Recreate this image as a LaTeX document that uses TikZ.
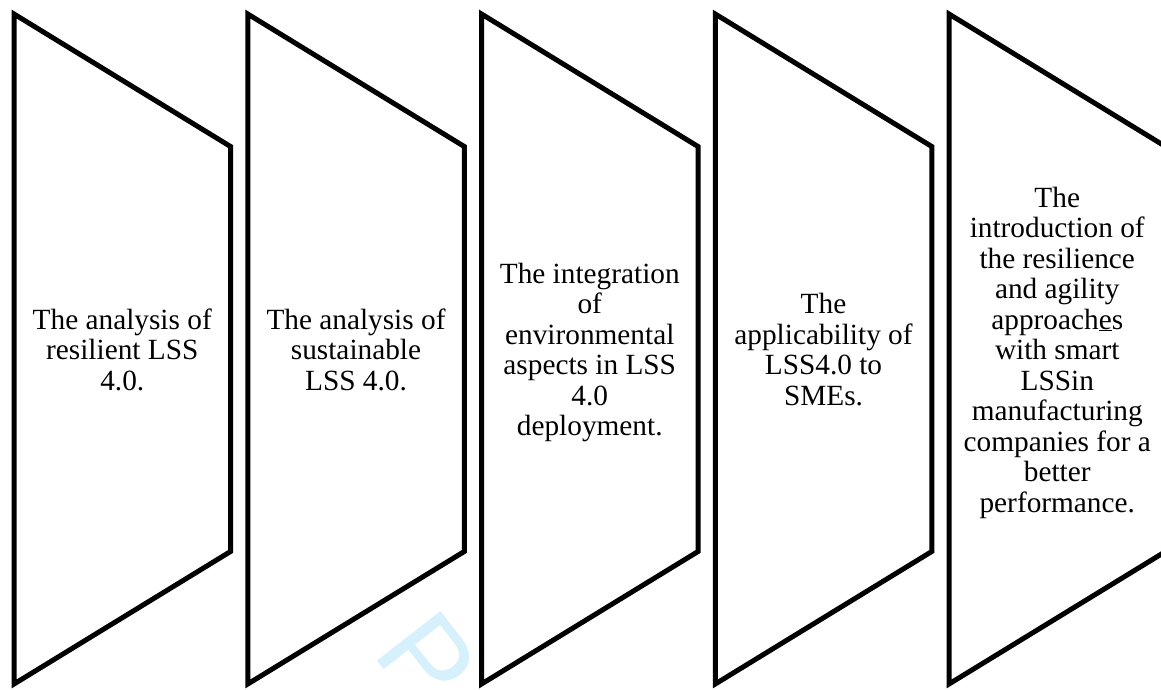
\documentclass[tikz,border=0pt]{standalone}
\usepackage{fontspec}
\setmainfont{Liberation Serif}
\newfontfamily\wmfont{Liberation Sans}
\definecolor{wmcyan}{RGB}{214,240,252}
\begin{document}
\begin{tikzpicture}[x=1pt,y=1pt,
  panel/.style={draw=black, fill=white, line width=5pt, line join=miter},
  label/.style={align=center, inner sep=0pt, font=\fontsize{29.3}{30.5}\selectfont},
  watermark/.style={anchor=base west, inner sep=0pt, rotate=-52, text=wmcyan,
    font=\wmfont\fontsize{117}{117}\selectfont}
]
\useasboundingbox (0,0) rectangle (1161,-689);
\clip (0,0) rectangle (1161,-689);
\fill[white] (0,0) rectangle (1161,-689);
% faint watermark behind the panels
\node[watermark] (wm) at (371.5,-653) {\makebox[0pt][l]{P}};
% panels
\foreach \x in {14,247.75,481.5,715.25,949} {
  \draw[panel] (\x,-14) -- (\x+216.5,-146.5) -- (\x+216.5,-551.5) -- (\x,-684) -- cycle;
}
% texts
\node[label] (t1) at (122.25,-353.4) {\strut The analysis of\\resilient LSS\\4.0.\strut};
\node[label] (t2) at (356,-353.4) {\strut The analysis of\\sustainable\\LSS 4.0.\strut};
\node[label] (t3) at (589.75,-353.4) {\strut The integration\\of\\environmental\\aspects in LSS\\4.0\\deployment.\strut};
\node[label] (t4) at (823.5,-353.4) {\strut The\\applicability of\\LSS4.0 to\\SMEs.\strut};
\node[label] (t5) at (1057.25,-353.4) {\strut The\\introduction of\\the resilience\\and agility\\approach\underline{e}s\\with smart\\LSSin\\manufacturing\\companies for a\\better\\performance.\strut};
\end{tikzpicture}
\end{document}
